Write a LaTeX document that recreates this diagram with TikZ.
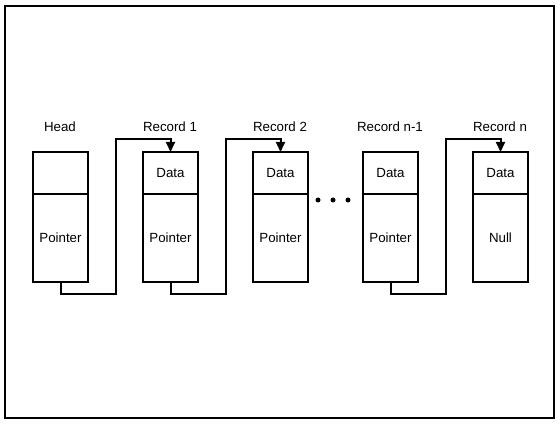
\documentclass[tikz,border=0pt]{standalone}
\usepackage{fontspec}
\setmainfont{Liberation Sans}
\usetikzlibrary{arrows.meta}
\begin{document}
\begin{tikzpicture}[x=1pt,y=-1pt,
  cell/.style={draw,line width=2pt,minimum width=55pt,inner sep=0pt,outer sep=0pt,font=\fontsize{13.3}{15}\selectfont},
  datacell/.style={cell,minimum height=42pt,anchor=north west},
  ptrcell/.style={cell,minimum height=88pt,anchor=north west},
  lbl/.style={font=\fontsize{13.3}{15}\selectfont,inner sep=0pt},
  link/.style={line width=2pt,-{Triangle[length=10pt,width=9pt]}}]
\useasboundingbox (0,0) rectangle (560,425);
\draw[line width=1.2pt] (5,6) rectangle (554,418);
% boxes
\node[datacell] (h0) at (33,152) {};
\node[ptrcell] (h1) at (33,194) {Pointer};
\node[datacell] (a0) at (143,152) {Data};
\node[ptrcell] (a1) at (143,194) {Pointer};
\node[datacell] (b0) at (253,152) {Data};
\node[ptrcell] (b1) at (253,194) {Pointer};
\node[datacell] (c0) at (363,152) {Data};
\node[ptrcell] (c1) at (363,194) {Pointer};
\node[datacell] (d0) at (473,152) {Data};
\node[ptrcell] (d1) at (473,194) {Null};
% labels
\node[lbl] (lh) at (60,127) {Head};
\node[lbl] (la) at (170,127) {Record 1};
\node[lbl] (lb) at (280,127) {Record 2};
\node[lbl] (lc) at (390,127) {Record n-1};
\node[lbl] (ld) at (500,127) {Record n};
% dots
\fill (318,200) circle (2.5pt) (333,200) circle (2.5pt) (348,200) circle (2.5pt);
% links
\draw[link] (h1.south) -- ++(0,12) -| (115.5,139) -| (a0.north);
\draw[link] (a1.south) -- ++(0,12) -| (225.5,139) -| (b0.north);
\draw[link] (c1.south) -- ++(0,12) -| (445.5,139) -| (d0.north);
\end{tikzpicture}
\end{document}
